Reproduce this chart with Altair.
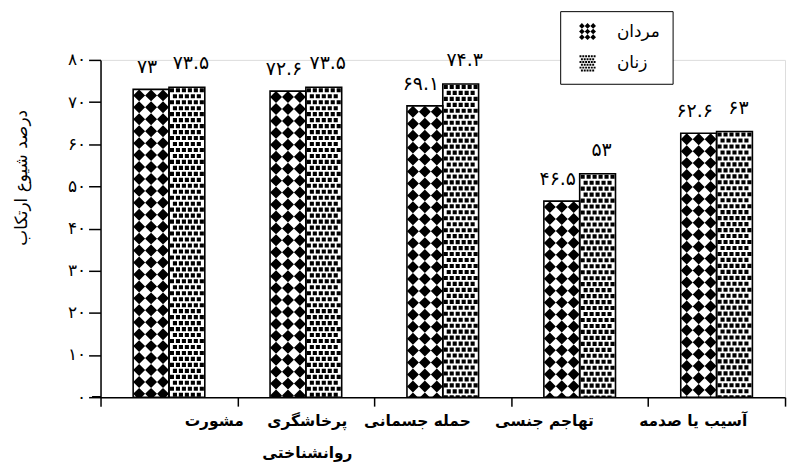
import json
import altair as alt
import pandas as pd

# ---------------- data ----------------
categories = ["مشورت", "پرخاشگری\nروانشناختی", "حمله جسمانی", "تهاجم جنسی", "آسیب یا صدمه"]
genders = ["مردان", "زنان"]
men_values = [73, 72.6, 69.1, 46.5, 62.6]
women_values = [73.5, 73.5, 74.3, 53, 63]
y_tick_values = [0, 10, 20, 30, 40, 50, 60, 70, 80]
y_tick_labels = ["۰", "۱۰", "۲۰", "۳۰", "۴۰", "۵۰", "۶۰", "۷۰", "۸۰"]
y_title = "درصد شیوع ارتکاب"

FA = str.maketrans("0123456789", "۰۱۲۳۴۵۶۷۸۹")


def to_fa(v):
    return f"{v:g}".translate(FA)


rows = []
for c, m, w in zip(categories, men_values, women_values):
    rows.append({"category": c, "gender": genders[0], "value": m, "label": to_fa(m)})
    rows.append({"category": c, "gender": genders[1], "value": w, "label": to_fa(w)})
df = pd.DataFrame(rows)

# ---------------- layout / style ----------------
WIDTH = 688
HEIGHT = 339
BAR_PX = 36
STEP = WIDTH / len(categories)
OFFSET_PAD = (STEP / BAR_PX - 2) / 2
TILE = BAR_PX * 80 / HEIGHT  # tile height in data units
FONT = "DejaVu Sans"

# per-category horizontal shift of axis labels (style)
LABEL_SHIFT = {categories[0]: 45, categories[1]: 1, categories[2]: -26, categories[3]: -36, categories[4]: -24}


def diamond(cx, cy, h):
    return f"M{cx-h:.4f},{cy:.4f}L{cx:.4f},{cy-h:.4f}L{cx+h:.4f},{cy:.4f}L{cx:.4f},{cy+h:.4f}Z"


def square(cx, cy, h):
    return f"M{cx-h:.4f},{cy-h:.4f}L{cx+h:.4f},{cy-h:.4f}L{cx+h:.4f},{cy+h:.4f}L{cx-h:.4f},{cy+h:.4f}Z"


MEN_PATH = "".join(diamond(cx, cy, 1 / 3) for cy in (-2 / 3, 0, 2 / 3) for cx in (-2 / 3, 0, 2 / 3))
women_parts = []
for r in range(6):
    cy = (-15 + 6 * r) / 18
    xs = [-15, -9, -3, 3, 9, 15] if r % 2 == 0 else [-12, -6, 0, 6, 12]
    for x in xs:
        women_parts.append(square(x / 18, cy, 0.115))
WOMEN_PATH = "".join(women_parts)

label_offset = {
    "condition": [
        {"test": f"datum.value === {json.dumps(c, ensure_ascii=False)}", "value": s}
        for c, s in LABEL_SHIFT.items()
    ],
    "value": 0,
}

x_axis = alt.Axis(
    title=None,
    tickBand="extent",
    tickSize=9,
    tickWidth=1.5,
    tickColor="black",
    domainColor="black",
    domainWidth=1.5,
    labelExpr="split(datum.label, '\\n')",
    labelFont=FONT,
    labelFontWeight="bold",
    labelFontSize=15.5,
    labelLineHeight=33,
    labelPadding=7,
    labelBaseline="top",
    labelAngle=0,
    labelColor="black",
    labelOffset=label_offset,
)

y_axis = alt.Axis(
    values=y_tick_values,
    labelExpr=f"{json.dumps(y_tick_labels, ensure_ascii=False)}[round(datum.value / 10)]",
    title=y_title,
    titleX=-79,
    titleY=118,
    titleAngle=270,
    titleAlign="center",
    titleBaseline="middle",
    titleFont=FONT,
    titleFontSize=17,
    titleFontWeight="normal",
    titleColor="black",
    tickSize=12,
    tickWidth=1.5,
    tickColor="black",
    domainColor="black",
    domainWidth=1.5,
    labelFont=FONT,
    labelFontSize=17,
    labelPadding=3,
    labelColor="black",
    grid=False,
)

X = alt.X("category:N", sort=categories, scale=alt.Scale(paddingInner=0, paddingOuter=0), axis=x_axis)
XO = alt.XOffset("gender:N", sort=genders, scale=alt.Scale(paddingInner=0, paddingOuter=OFFSET_PAD))
y_scale = alt.Scale(domain=[0, 80], nice=False)

base = alt.Chart(df)

bars = base.mark_bar(fill="white", strokeWidth=0, width=BAR_PX).encode(
    x=X, xOffset=XO, y=alt.Y("value:Q", scale=y_scale, axis=y_axis, title=y_title)
)

pattern = (
    base.transform_calculate(k=f"sequence(0, ceil(datum.value / {TILE}))")
    .transform_flatten(["k"])
    .transform_calculate(lvl=f"datum.value - {TILE / 2} - datum.k * {TILE}")
    .mark_point(filled=True, clip=True, opacity=1, color="black", size=BAR_PX * BAR_PX, strokeWidth=0)
    .encode(
        x=X,
        xOffset=XO,
        y=alt.Y("lvl:Q", scale=y_scale, axis=y_axis, title=y_title),
        shape=alt.Shape(
            "gender:N",
            sort=genders,
            scale=alt.Scale(domain=genders, range=[MEN_PATH, WOMEN_PATH]),
            legend=alt.Legend(
                title=None,
                orient="none",
                legendX=462,
                legendY=-49,
                direction="vertical",
                strokeColor="black",
                fillColor="white",
                padding=12,
                symbolSize=289,
                symbolOffset=7,
                symbolFillColor="black",
                symbolStrokeWidth=0,
                symbolOpacity=1,
                labelOffset=21,
                labelFont=FONT,
                labelFontSize=17,
                labelColor="black",
                rowPadding=14,
            ),
        ),
    )
)

outlines = base.mark_bar(fillOpacity=0, stroke="black", strokeWidth=1.6, width=BAR_PX).encode(
    x=X, xOffset=XO, y=alt.Y("value:Q", scale=y_scale, axis=y_axis, title=y_title)
)

men_df = df[df["gender"] == genders[0]]
women_df = df[df["gender"] == genders[1]]

label_enc = dict(
    x=X, xOffset=XO, y=alt.Y("value:Q", scale=y_scale, axis=y_axis, title=y_title), text="label:N"
)
men_labels = alt.Chart(men_df).mark_text(
    font=FONT, fontSize=19, baseline="alphabetic", dy=-16, dx=-4, color="black"
).encode(**label_enc)
women_labels = alt.Chart(women_df).mark_text(
    font=FONT, fontSize=19, baseline="alphabetic", dy=-18, dx=4, color="black"
).encode(**label_enc)

axis_ext = base.mark_rule(color="black", strokeWidth=1.5).encode(
    x=alt.value(-8), x2=alt.value(0), y=alt.value(HEIGHT)
)

chart = (
    alt.layer(bars, pattern, outlines, men_labels, women_labels, axis_ext)
    .properties(
        width=WIDTH,
        height=HEIGHT,
        autosize=alt.AutoSizeParams(type="none"),
        padding={"left": 93, "top": 51, "right": 6, "bottom": 67},
    )
    .configure_view(stroke=None)
    .configure(font=FONT, background="white")
)

chart.save("out.html", embed_options={"renderer": "svg", "actions": False})
